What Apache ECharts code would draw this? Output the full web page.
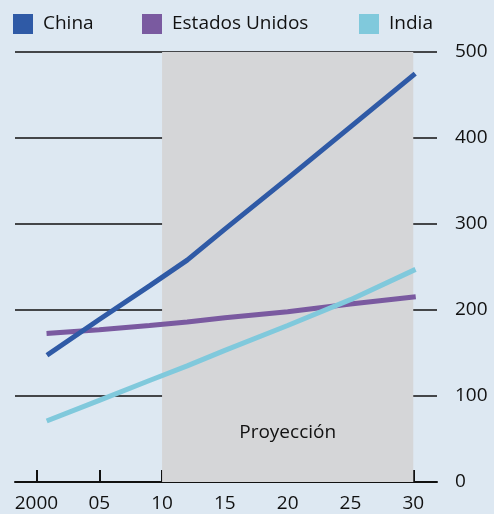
<!DOCTYPE html>
<html><head><meta charset="utf-8">
<script src="https://cdn.jsdelivr.net/npm/echarts@6/dist/echarts.min.js"></script>
<style>html,body{margin:0;padding:0;background:#dde8f2;}#c{width:494px;height:514px;}</style>
</head><body><div id="c"></div>
<script>
const years = [2001, 2005, 2009, 2012, 2015, 2020, 2025, 2030];
const china = [149, 189, 228, 258, 294, 353, 413, 473];
const usa = [173, 177, 182, 186, 191, 198, 207, 215];
const india = [72, 95, 118, 135, 153, 182, 212, 246];
const seriesNames = ['China', 'Estados Unidos', 'India'];
const xTicks = [2000, 2005, 2010, 2015, 2020, 2025, 2030];
const projection = [2010, 2030];
const projLabel = 'Proyección';

const FONT = 'Open Sans';
const colors = ['#2f5aa6', '#7a5aa0', '#80c9dc'];
const pairs = v => years.map((y, i) => [y, v[i]]);

const chart = echarts.init(document.getElementById('c'));
const legendBase = {
  top: 14, padding: 0, icon: 'rect', itemWidth: 20, itemHeight: 20,
  textStyle: {fontFamily: FONT, fontSize: 19, color: '#111', padding: [0,0,0,5]},
  selectedMode: false
};
chart.setOption({
  backgroundColor: '#dde8f2',
  animation: false,
  legend: [
    Object.assign({}, legendBase, {left: 13, data: [seriesNames[0]]}),
    Object.assign({}, legendBase, {left: 142, data: [seriesNames[1]]}),
    Object.assign({}, legendBase, {left: 359, data: [seriesNames[2]]})
  ],
  grid: {left: 15, right: 57, top: 52, bottom: 32},
  xAxis: {
    type: 'value', min: 1998.29, max: 2031.89,
    axisLine: {show: true, lineStyle: {color: '#111', width: 2}},
    axisTick: {show: true, inside: true, length: 12, customValues: xTicks, lineStyle: {color: '#111', width: 2}},
    axisLabel: {customValues: xTicks, margin: 12, fontFamily: FONT, fontSize: 19, color: '#111',
      formatter: v => v === 2000 ? '2000' : String(v % 100).padStart(2, '0')},
    splitLine: {show: false}
  },
  yAxis: {
    type: 'value', position: 'right', min: 0, max: 500, interval: 100,
    axisLine: {show: false}, axisTick: {show: false},
    axisLabel: {margin: 18, align: 'left', fontFamily: FONT, fontSize: 19, color: '#111'},
    splitLine: {show: true, lineStyle: {color: '#111', width: 1.6}}
  },
  series: [
    {name: seriesNames[0], type: 'line', data: pairs(china), symbol: 'none', z: 4,
      itemStyle: {color: colors[0]}, lineStyle: {color: colors[0], width: 5, cap: 'square'},
      markArea: {silent: true, itemStyle: {color: '#d5d6d8'},
        label: {show: true, position: 'insideBottom', distance: 40, formatter: projLabel,
          fontFamily: FONT, fontSize: 19, color: '#111'},
        data: [[{xAxis: projection[0]}, {xAxis: projection[1]}]]}},
    {name: seriesNames[1], type: 'line', data: pairs(usa), symbol: 'none', z: 3,
      itemStyle: {color: colors[1]}, lineStyle: {color: colors[1], width: 5, cap: 'square'}},
    {name: seriesNames[2], type: 'line', data: pairs(india), symbol: 'none', z: 5,
      itemStyle: {color: colors[2]}, lineStyle: {color: colors[2], width: 5, cap: 'square'}}
  ]
});
</script></body></html>
